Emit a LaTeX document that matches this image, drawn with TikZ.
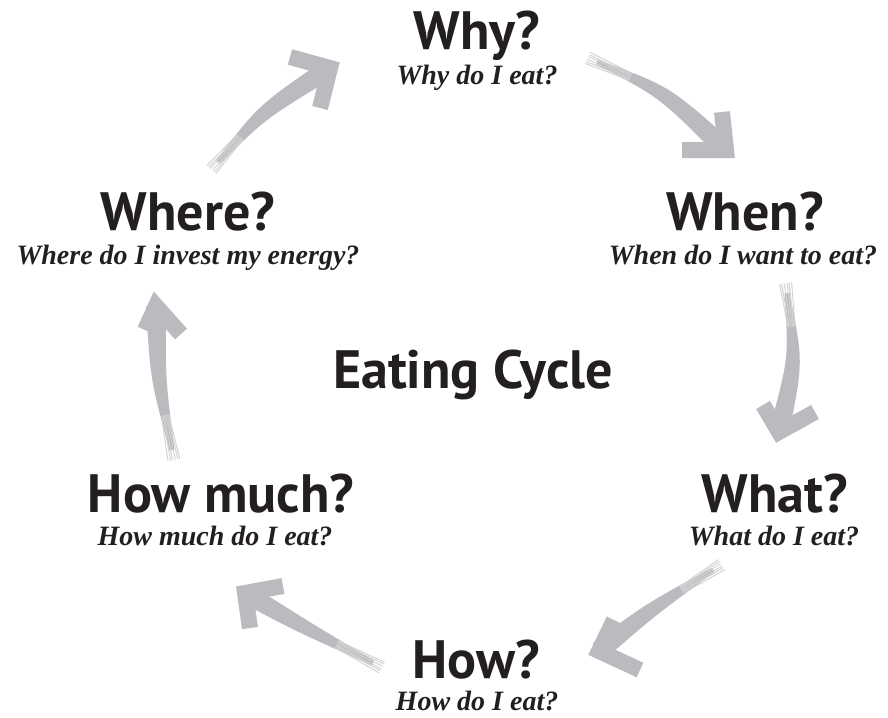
\documentclass[tikz,border=0pt]{standalone}
\usepackage{fontspec}
\usetikzlibrary{calc}
\newfontfamily\titlefam{PT Sans}
\newfontfamily\subfam{Liberation Serif}
\definecolor{ink}{HTML}{231F20}
\definecolor{brush}{HTML}{BABBBE}
\tikzset{
  ttl/.style={font=\titlefam\bfseries\fontsize{54}{60}\selectfont, text=ink, anchor=base, inner sep=0pt, text depth=0pt},
  subttl/.style={font=\subfam\bfseries\itshape\fontsize{28}{32}\selectfont, text=ink, anchor=base, inner sep=0pt, text height=17pt},
  streak/.style={brush!65, line width=1pt},
}
% #1 tail, #2 control, #3 head vertex, #4 arm end 1, #5 arm end 2
\newcommand\brusharrow[5]{%
  \fill[brush] ($(#1)!2.5pt!90:(#2)$) .. controls ($(#2)!7.5pt!90:(#3)$) .. ($(#3)!10pt!-90:(#2)$)
     -- ($(#3)!10pt!90:(#2)$) .. controls ($(#2)!7.5pt!-90:(#3)$) .. ($(#1)!2.5pt!-90:(#2)$) -- cycle;
  \foreach \o in {-6,-4,-1.5,1.5,3.5,6}{
    \draw[streak] ($($(#1)!-10pt!(#2)$)!\o pt!90:(#2)$) -- ($($(#1)!0.5!(#2)$)!0.6*\o pt!90:(#2)$);
  }
  \draw[brush, line width=16pt, line join=miter, miter limit=20, line cap=butt] (#4) -- (#3) -- (#5);
}
\begin{document}
\begin{tikzpicture}[x=1pt, y=-1pt]
\useasboundingbox (0,0) rectangle (888,717);

% texts
\node[ttl] (why) at (477,50) {Why?};
\node[subttl] (whysub) at (477,84) {Why do I eat?};
\node[ttl] (when) at (745,230) {When?};
\node[subttl] (whensub) at (743,264) {When do I want to eat?};
\node[ttl] (what) at (775,512) {What?};
\node[subttl] (whatsub) at (774,545) {What do I eat?};
\node[ttl] (how) at (476,678) {How?};
\node[subttl] (howsub) at (477,710) {How do I eat?};
\node[ttl] (howmuch) at (221,512) {How much?};
\node[subttl] (howmuchsub) at (215,545) {How much do I eat?};
\node[ttl] (where) at (188,230) {Where?};
\node[subttl] (wheresub) at (188,264) {Where do I invest my energy?};
\node[ttl] (cycle) at (473,388) {Eating Cycle};

% arrow geometry
\coordinate (a1T) at (218,162); \coordinate (a1C) at (262,112); \coordinate (a1V) at (330,68);
\coordinate (a1A) at (290,57);  \coordinate (a1B) at (320,108);
\coordinate (a2T) at (597,62);  \coordinate (a2C) at (665,92);  \coordinate (a2V) at (726,150);
\coordinate (a2A) at (722,112); \coordinate (a2B) at (682,150);
\coordinate (a3T) at (787,293); \coordinate (a3C) at (796,360); \coordinate (a3V) at (779,432);
\coordinate (a3A) at (763,405); \coordinate (a3B) at (815,412);
\coordinate (a4T) at (713,570); \coordinate (a4C) at (650,610); \coordinate (a4V) at (599,651);
\coordinate (a4A) at (614,620); \coordinate (a4B) at (640,670);
\coordinate (a5T) at (373,663); \coordinate (a5C) at (300,625); \coordinate (a5V) at (245,593);
\coordinate (a5A) at (283,586); \coordinate (a5B) at (250,628);
\coordinate (a6T) at (172,450); \coordinate (a6C) at (158,380); \coordinate (a6V) at (156,306);
\coordinate (a6A) at (181,334); \coordinate (a6B) at (145,330);

\brusharrow{a1T}{a1C}{a1V}{a1A}{a1B}
\brusharrow{a2T}{a2C}{a2V}{a2A}{a2B}
\brusharrow{a3T}{a3C}{a3V}{a3A}{a3B}
\brusharrow{a4T}{a4C}{a4V}{a4A}{a4B}
\brusharrow{a5T}{a5C}{a5V}{a5A}{a5B}
\brusharrow{a6T}{a6C}{a6V}{a6A}{a6B}
\end{tikzpicture}
\end{document}
